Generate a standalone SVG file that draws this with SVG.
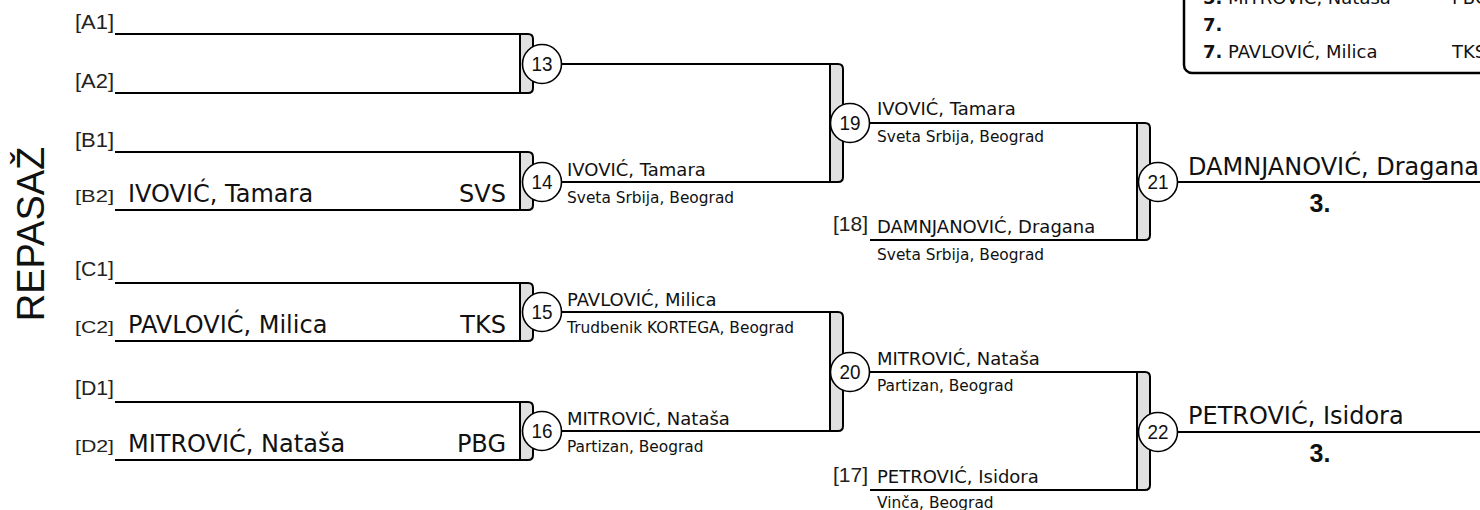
<svg xmlns="http://www.w3.org/2000/svg" width="1480" height="510" viewBox="0 0 1480 510">
<style>
.ln{stroke:#000;stroke-width:2;fill:none}
.br{fill:#e0e0e0;stroke:#000;stroke-width:2}
.cc{fill:#fff;stroke:#000;stroke-width:1.6}
.num{font-family:"Liberation Sans",Arial,sans-serif;font-size:21px;text-anchor:middle;fill:#111}
.lab{font-family:"Liberation Sans",Arial,sans-serif;font-size:21px;fill:#222}
.labs{font-family:"Liberation Sans",Arial,sans-serif;font-size:17px;fill:#222}
.big{font-family:"DejaVu Sans",sans-serif;font-size:24px;fill:#111}
.nm{font-family:"DejaVu Sans",sans-serif;font-size:18px;fill:#111}
.cl{font-family:"DejaVu Sans",sans-serif;font-size:15.4px;fill:#111}
.pl{font-family:"Liberation Sans",Arial,sans-serif;font-size:25px;font-weight:bold;text-anchor:middle;fill:#111}
.rk{font-family:"DejaVu Sans",sans-serif;font-size:18px;font-weight:bold;fill:#111}
.rn{font-family:"DejaVu Sans",sans-serif;font-size:18px;fill:#111}
</style>

<text transform="translate(44,234) rotate(-90)" font-family="'Liberation Sans',Arial,sans-serif" font-size="38" text-anchor="middle" fill="#111">REPASAŽ</text>

<g id="standings">
<rect x="1184" y="-20" width="330" height="93" rx="8" fill="#fff" stroke="#000" stroke-width="2.5"/>
<text class="rk" x="1203" y="4">5.</text><text class="rn" x="1228" y="4">MITROVIĆ, Nataša</text><text class="rn" x="1452" y="4">PBG</text>
<text class="rk" x="1203" y="31">7.</text>
<text class="rk" x="1203" y="58">7.</text><text class="rn" x="1228" y="58">PAVLOVIĆ, Milica</text><text class="rn" x="1452" y="58">TKS</text>
</g>

<g id="connectors">
<path class="ln" d="M115,34H522M115,93H522M115,152H522M115,210H522M115,283H522M115,341H522M115,402H522M115,460H522"/>
<path class="ln" d="M542,64H832M542,182H832M542,312H832M542,431H832"/>
<path class="ln" d="M850,123H1139M870,240H1139M850,372H1139M870,490H1139"/>
<path class="ln" d="M1158,182H1480M1158,432H1480"/>
</g>

<g id="entry-A1"><text class="lab" x="75" y="29" textLength="39" lengthAdjust="spacingAndGlyphs">[A1]</text></g>
<g id="entry-A2"><text class="lab" x="75" y="88" textLength="39" lengthAdjust="spacingAndGlyphs">[A2]</text></g>
<g id="entry-B1"><text class="lab" x="75" y="147" textLength="39" lengthAdjust="spacingAndGlyphs">[B1]</text></g>
<g id="entry-B2"><text class="labs" x="75" y="202" textLength="39" lengthAdjust="spacingAndGlyphs">[B2]</text>
<text class="big" x="128" y="202">IVOVIĆ, Tamara</text><text class="big" x="506" y="202" text-anchor="end">SVS</text></g>
<g id="entry-C1"><text class="lab" x="75" y="276" textLength="39" lengthAdjust="spacingAndGlyphs">[C1]</text></g>
<g id="entry-C2"><text class="labs" x="75" y="333" textLength="39" lengthAdjust="spacingAndGlyphs">[C2]</text>
<text class="big" x="128" y="333">PAVLOVIĆ, Milica</text><text class="big" x="506" y="333" text-anchor="end">TKS</text></g>
<g id="entry-D1"><text class="lab" x="75" y="395" textLength="39" lengthAdjust="spacingAndGlyphs">[D1]</text></g>
<g id="entry-D2"><text class="labs" x="75" y="452" textLength="39" lengthAdjust="spacingAndGlyphs">[D2]</text>
<text class="big" x="128" y="452">MITROVIĆ, Nataša</text><text class="big" x="506" y="452" text-anchor="end">PBG</text></g>

<g id="match-13">
<path class="br" d="M520,34H528Q533,34 533,39V88Q533,93 528,93H520Z"/>
<circle class="cc" cx="542" cy="64" r="19.5"/><text class="num" x="542" y="71" textLength="21" lengthAdjust="spacingAndGlyphs">13</text>
</g>
<g id="match-14">
<path class="br" d="M520,152H528Q533,152 533,157V205Q533,210 528,210H520Z"/>
<circle class="cc" cx="542" cy="182" r="19.5"/><text class="num" x="542" y="189" textLength="21" lengthAdjust="spacingAndGlyphs">14</text>
<text class="nm" x="567" y="176">IVOVIĆ, Tamara</text><text class="cl" x="567" y="203">Sveta Srbija, Beograd</text>
</g>
<g id="match-15">
<path class="br" d="M520,283H528Q533,283 533,288V336Q533,341 528,341H520Z"/>
<circle class="cc" cx="542" cy="312" r="19.5"/><text class="num" x="542" y="319" textLength="21" lengthAdjust="spacingAndGlyphs">15</text>
<text class="nm" x="567" y="306">PAVLOVIĆ, Milica</text><text class="cl" x="567" y="333">Trudbenik KORTEGA, Beograd</text>
</g>
<g id="match-16">
<path class="br" d="M520,402H528Q533,402 533,407V455Q533,460 528,460H520Z"/>
<circle class="cc" cx="542" cy="431" r="19.5"/><text class="num" x="542" y="438" textLength="21" lengthAdjust="spacingAndGlyphs">16</text>
<text class="nm" x="567" y="425">MITROVIĆ, Nataša</text><text class="cl" x="567" y="452">Partizan, Beograd</text>
</g>

<g id="match-19">
<path class="br" d="M830,64H838Q843,64 843,69V177Q843,182 838,182H830Z"/>
<circle class="cc" cx="850" cy="123" r="19.5"/><text class="num" x="850" y="130" textLength="21" lengthAdjust="spacingAndGlyphs">19</text>
<text class="nm" x="877" y="115">IVOVIĆ, Tamara</text><text class="cl" x="877" y="142">Sveta Srbija, Beograd</text>
</g>
<g id="match-20">
<path class="br" d="M830,312H838Q843,312 843,317V426Q843,431 838,431H830Z"/>
<circle class="cc" cx="850" cy="372" r="19.5"/><text class="num" x="850" y="379" textLength="21" lengthAdjust="spacingAndGlyphs">20</text>
<text class="nm" x="877" y="365">MITROVIĆ, Nataša</text><text class="cl" x="877" y="391">Partizan, Beograd</text>
</g>

<g id="seed-18">
<text class="lab" x="833" y="231" font-size="20" textLength="35" lengthAdjust="spacingAndGlyphs">[18]</text>
<text class="nm" x="877" y="233">DAMNJANOVIĆ, Dragana</text><text class="cl" x="877" y="260">Sveta Srbija, Beograd</text>
</g>
<g id="seed-17">
<text class="lab" x="833" y="482" font-size="20" textLength="35" lengthAdjust="spacingAndGlyphs">[17]</text>
<text class="nm" x="877" y="483">PETROVIĆ, Isidora</text><text class="cl" x="877" y="508">Vinča, Beograd</text>
</g>

<g id="match-21">
<path class="br" d="M1137,123H1145Q1150,123 1150,128V235Q1150,240 1145,240H1137Z"/>
<circle class="cc" cx="1158" cy="182" r="19.5"/><text class="num" x="1158" y="189" textLength="21" lengthAdjust="spacingAndGlyphs">21</text>
<text class="big" x="1188" y="175">DAMNJANOVIĆ, Dragana</text>
<text class="pl" x="1320" y="212">3.</text>
</g>
<g id="match-22">
<path class="br" d="M1137,372H1145Q1150,372 1150,377V485Q1150,490 1145,490H1137Z"/>
<circle class="cc" cx="1158" cy="432" r="19.5"/><text class="num" x="1158" y="439" textLength="21" lengthAdjust="spacingAndGlyphs">22</text>
<text class="big" x="1188" y="424">PETROVIĆ, Isidora</text>
<text class="pl" x="1320" y="462">3.</text>
</g>
</svg>
